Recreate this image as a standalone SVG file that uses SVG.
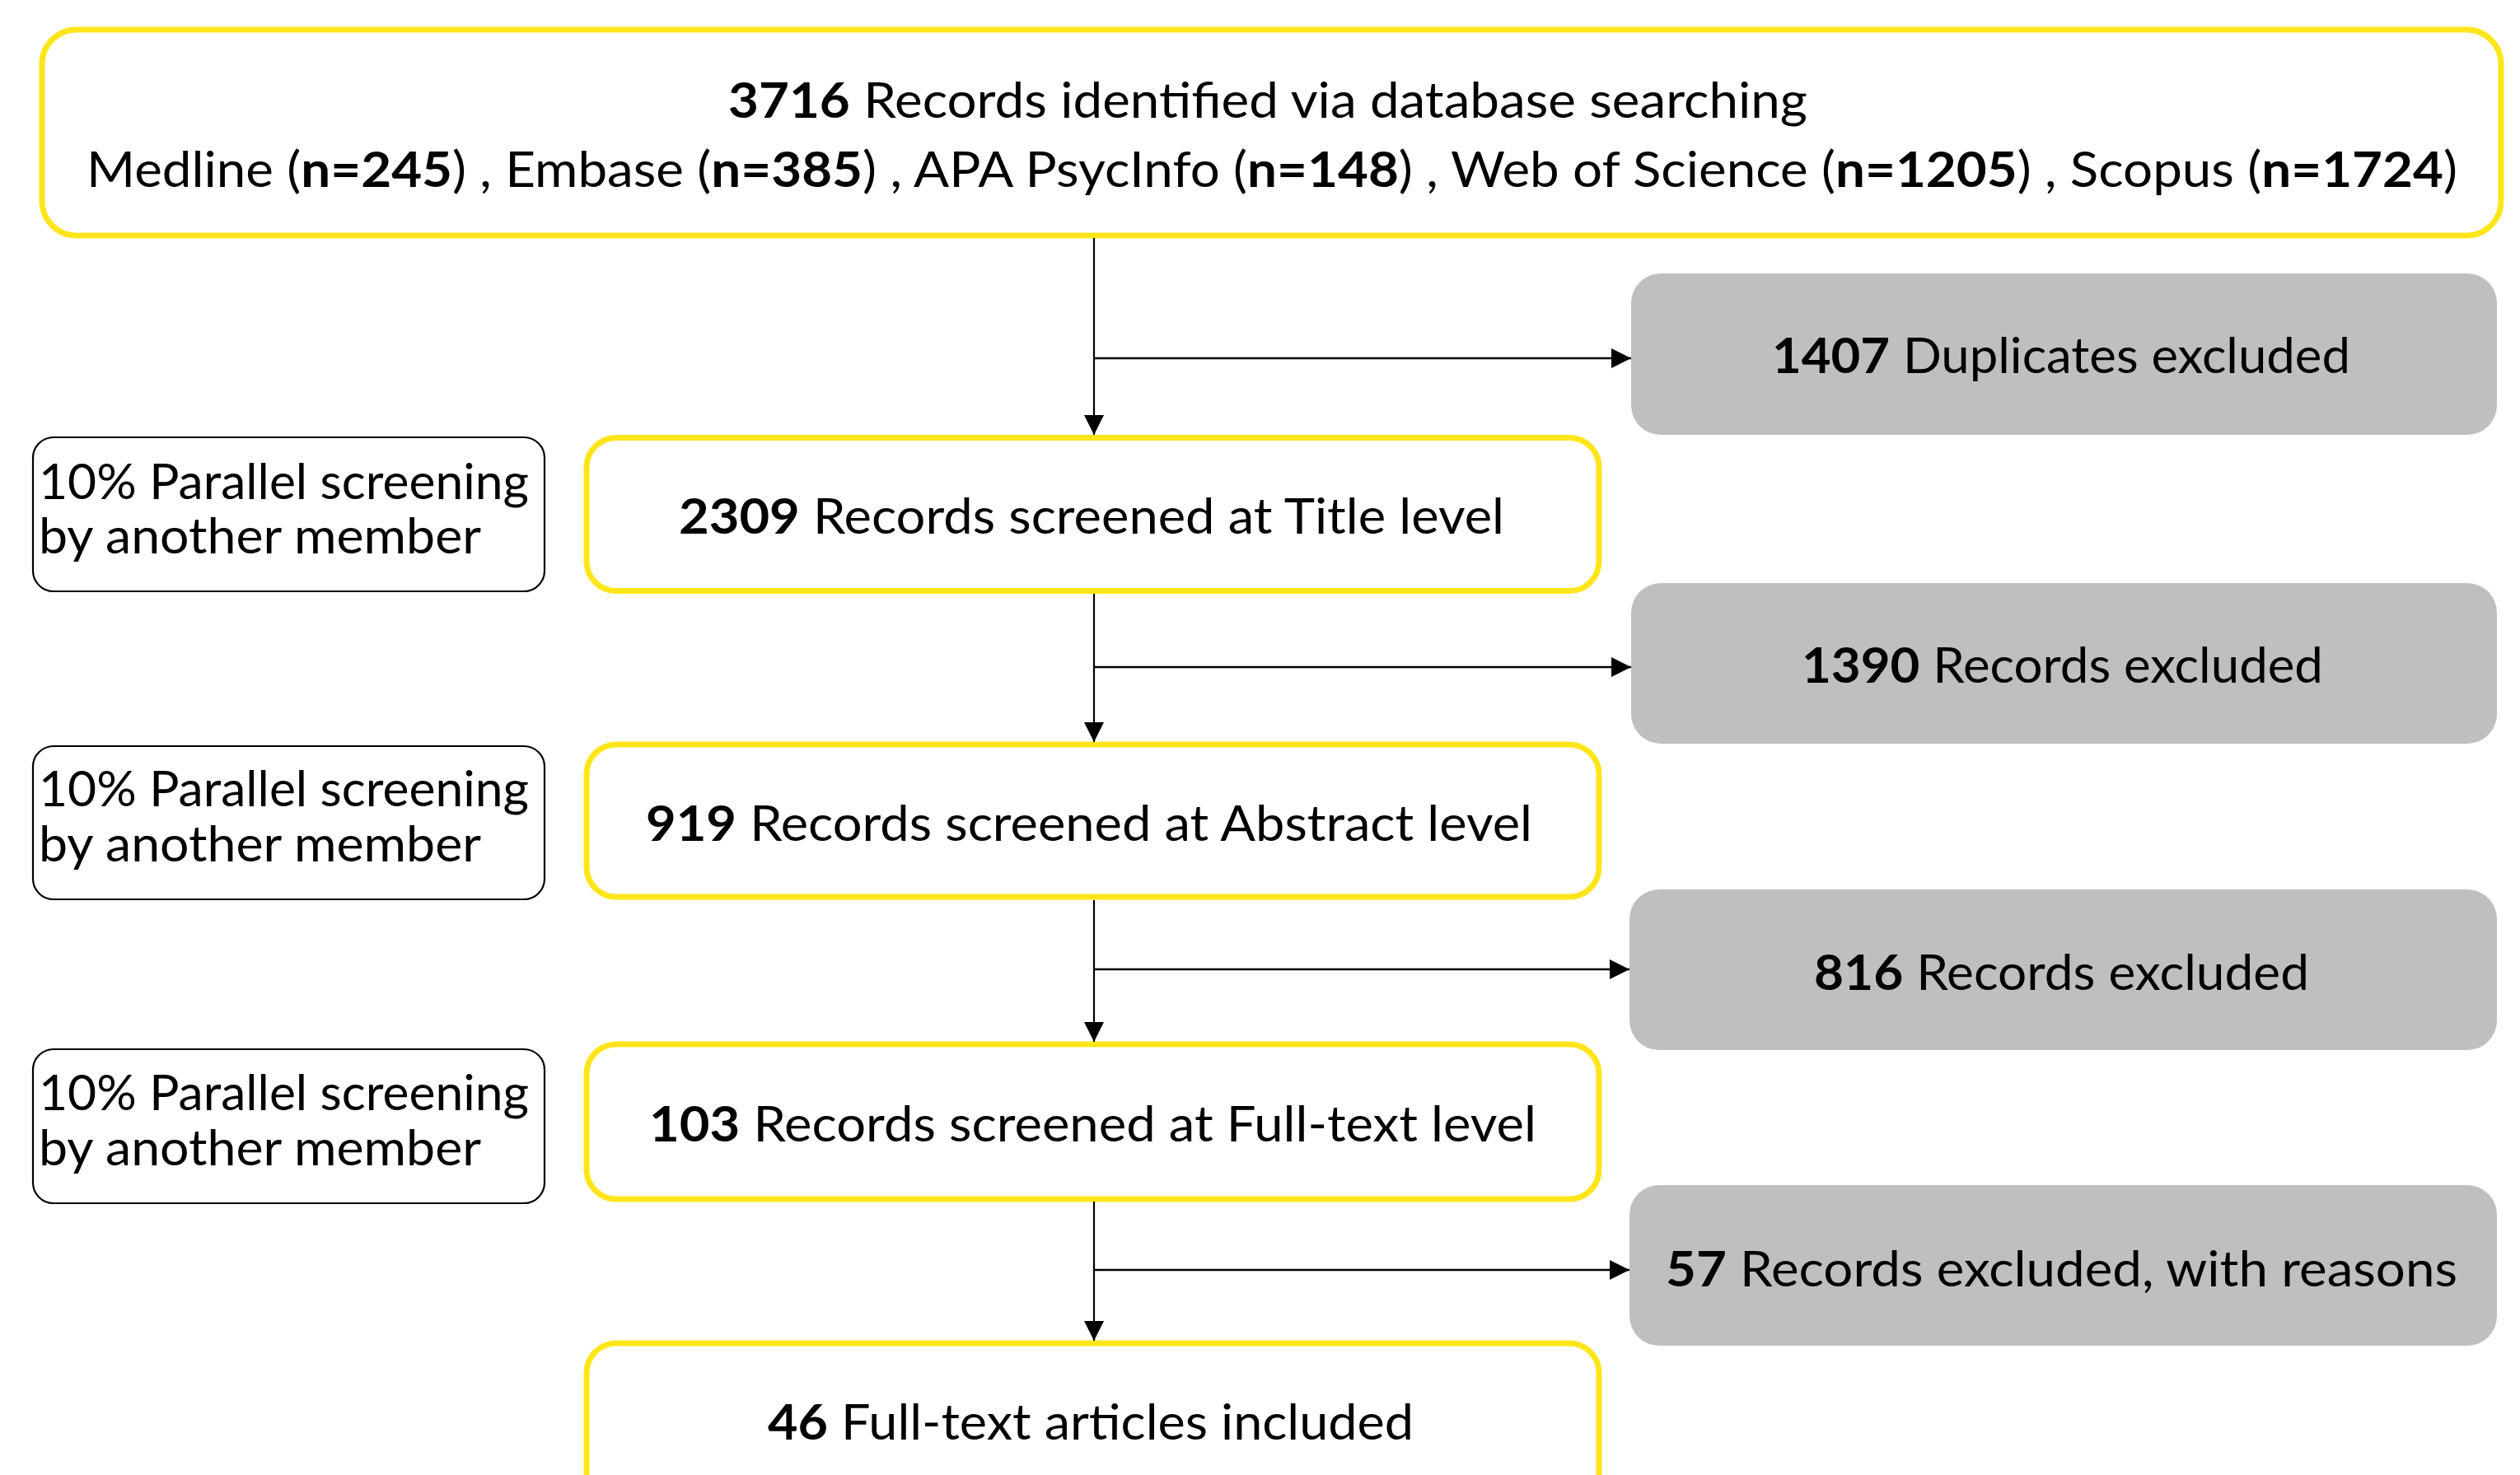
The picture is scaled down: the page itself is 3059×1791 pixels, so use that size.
<svg xmlns="http://www.w3.org/2000/svg" width="3059" height="1791" viewBox="0 0 3059 1791">
<style>
  text { font-family: Lato, "Open Sans", "Liberation Sans", sans-serif; font-size: 60px; fill: #000; }
  .b { font-weight: bold; }
  .ybox { fill: #fff; stroke: #FFE51A; stroke-width: 7; }
  .gbox { fill: #BFBFBF; stroke: none; }
  .wbox { fill: #fff; stroke: #000; stroke-width: 2.2; }
  .line { stroke: #000; stroke-width: 2.2; fill: none; }
  .arr { stroke: #000; stroke-width: 2.5; fill: none; marker-end: url(#ah); }
  .arrv { stroke: #000; stroke-width: 2.2; fill: none; marker-end: url(#ah); }
</style>
<defs>
  <marker id="ah" markerUnits="userSpaceOnUse" markerWidth="26" markerHeight="24" refX="24" refY="12" orient="auto">
    <path d="M0,0 L24,12 L0,24 Z" fill="#000"/>
  </marker>
</defs>
<rect width="3059" height="1791" fill="#fff"/>

<g id="n-identified">
  <rect class="ybox" x="51" y="36" width="2985" height="250" rx="42" ry="42"/>
  <text x="884" y="143" textLength="1310" lengthAdjust="spacingAndGlyphs"><tspan class="b">3716</tspan> Records identified via database searching</text>
  <text x="105" y="227" textLength="2878" lengthAdjust="spacingAndGlyphs">Medline (<tspan class="b">n=245</tspan>) , Embase (<tspan class="b">n=385</tspan>) , APA PsycInfo (<tspan class="b">n=148</tspan>) , Web of Science (<tspan class="b">n=1205</tspan>) , Scopus (<tspan class="b">n=1724</tspan>)</text>
</g>

<g id="n-duplicates">
  <rect class="gbox" x="1980" y="332" width="1051" height="196" rx="36" ry="36"/>
  <text x="2151" y="453" textLength="702" lengthAdjust="spacingAndGlyphs"><tspan class="b">1407</tspan> Duplicates excluded</text>
</g>

<g id="n-parallel1">
  <rect class="wbox" x="40" y="531" width="621" height="187" rx="25" ry="25"/>
  <text x="47" y="606" textLength="595" lengthAdjust="spacingAndGlyphs">10% Parallel screening</text>
  <text x="47" y="672" textLength="537" lengthAdjust="spacingAndGlyphs">by another member</text>
</g>

<g id="n-title">
  <rect class="ybox" x="712" y="531.5" width="1229" height="186" rx="36" ry="36"/>
  <text x="824" y="648" textLength="1002" lengthAdjust="spacingAndGlyphs"><tspan class="b">2309</tspan> Records screened at Title level</text>
</g>

<g id="n-excl1390">
  <rect class="gbox" x="1980" y="708" width="1051" height="195" rx="36" ry="36"/>
  <text x="2187" y="829" textLength="633" lengthAdjust="spacingAndGlyphs"><tspan class="b">1390</tspan> Records excluded</text>
</g>

<g id="n-parallel2">
  <rect class="wbox" x="40" y="906" width="621" height="186" rx="25" ry="25"/>
  <text x="47" y="979" textLength="595" lengthAdjust="spacingAndGlyphs">10% Parallel screening</text>
  <text x="47" y="1046" textLength="537" lengthAdjust="spacingAndGlyphs">by another member</text>
</g>

<g id="n-abstract">
  <rect class="ybox" x="712" y="904" width="1229" height="185" rx="36" ry="36"/>
  <text x="784" y="1021" textLength="1076" lengthAdjust="spacingAndGlyphs"><tspan class="b">919</tspan> Records screened at Abstract level</text>
</g>

<g id="n-excl816">
  <rect class="gbox" x="1978" y="1080" width="1053" height="195" rx="36" ry="36"/>
  <text x="2202" y="1202" textLength="601" lengthAdjust="spacingAndGlyphs"><tspan class="b">816</tspan> Records excluded</text>
</g>

<g id="n-parallel3">
  <rect class="wbox" x="40" y="1274" width="621" height="187" rx="25" ry="25"/>
  <text x="47" y="1348" textLength="595" lengthAdjust="spacingAndGlyphs">10% Parallel screening</text>
  <text x="47" y="1415" textLength="537" lengthAdjust="spacingAndGlyphs">by another member</text>
</g>

<g id="n-fulltext">
  <rect class="ybox" x="712" y="1268" width="1229" height="188" rx="36" ry="36"/>
  <text x="788" y="1386" textLength="1077" lengthAdjust="spacingAndGlyphs"><tspan class="b">103</tspan> Records screened at Full-text level</text>
</g>

<g id="n-excl57">
  <rect class="gbox" x="1978" y="1439" width="1053" height="195" rx="36" ry="36"/>
  <text x="2022" y="1562" textLength="961" lengthAdjust="spacingAndGlyphs"><tspan class="b">57</tspan> Records excluded, with reasons</text>
</g>

<g id="n-included">
  <rect class="ybox" x="712" y="1631" width="1229" height="200" rx="36" ry="36"/>
  <text x="932" y="1748" textLength="784" lengthAdjust="spacingAndGlyphs"><tspan class="b">46</tspan> Full-text articles included</text>
</g>

<g id="connectors">
  <path class="arrv" d="M1328,289 L1328,528"/>
  <path class="arr" d="M1328,435 L1980,435"/>
  <path class="arrv" d="M1328,721 L1328,901"/>
  <path class="arr" d="M1328,810 L1980,810"/>
  <path class="arrv" d="M1328,1093 L1328,1265"/>
  <path class="arr" d="M1328,1177 L1978,1177"/>
  <path class="arrv" d="M1328,1459 L1328,1628"/>
  <path class="arr" d="M1328,1542 L1978,1542"/>
</g>
</svg>
